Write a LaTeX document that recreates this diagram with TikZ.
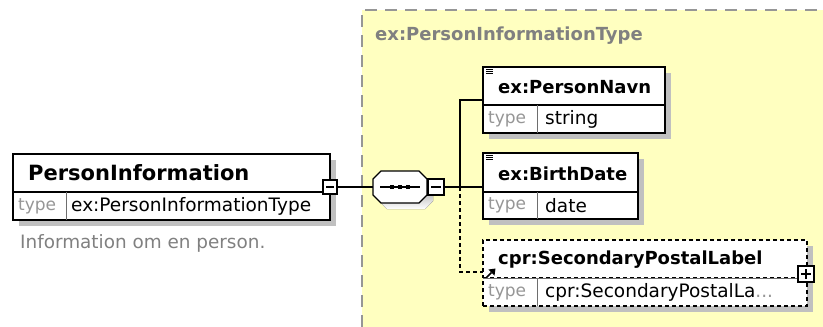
\documentclass[tikz,border=0pt]{standalone}
\usepackage{fontspec}
\setmainfont{DejaVu Sans}
\usetikzlibrary{arrows.meta,shadows}
\definecolor{bgyellow}{RGB}{255,255,192}
\definecolor{shade}{RGB}{192,192,192}
\definecolor{framegray}{RGB}{150,150,150}
\definecolor{typegray}{RGB}{150,150,150}
\definecolor{titlegray}{RGB}{128,128,128}
\definecolor{rulegray}{RGB}{110,110,110}
\begin{document}
\begin{tikzpicture}[x=1pt,y=-1pt,
  boxbase/.style={fill=white, line width=1.3pt, anchor=north west, inner sep=0pt, outer sep=0pt},
  hdr/.style={boxbase, draw=black, general shadow={fill=shade, shadow xshift=6pt, shadow yshift=-6pt}},
  row/.style={boxbase, draw=black, general shadow={fill=shade, shadow xshift=6pt, shadow yshift=-6pt}},
  opthdr/.style={hdr, dash pattern=on 4pt off 3pt},
  hdrtext/.style={anchor=west, inner sep=0pt, font=\fontsize{18}{21}\selectfont\bfseries},
  typetext/.style={anchor=west, inner sep=0pt, font=\fontsize{17}{20}\selectfont, text=typegray},
  valtext/.style={anchor=west, inner sep=0pt, font=\fontsize{18.5}{21}\selectfont},
  pmbox/.style={draw=black, fill=white, line width=1.2pt, minimum size=14pt, inner sep=0pt},
  conn/.style={line width=1.2pt, draw=black},
  optconn/.style={conn, dash pattern=on 4pt off 3pt},
]
\useasboundingbox (0,0) rectangle (823,327);
% complex type area
\fill[bgyellow] (362,10) rectangle (823,327);
\draw[framegray, line width=1.3pt, dash pattern=on 12pt off 8pt] (362,327) -- (362,10) -- (823,10);
\node[anchor=west, inner sep=0pt, text=titlegray, font=\fontsize{18}{21}\selectfont\bfseries] (cttitle) at (375,36) {ex:PersonInformationType};

% PersonInformation
\node[hdr, minimum width=317pt, minimum height=38pt] (pih) at (13,154) {};
\node[row, minimum width=317pt, minimum height=28pt] (pit) at (pih.south west) {};
\draw[rulegray, line width=1pt] ([xshift=53pt]pit.north west) -- ([xshift=53pt]pit.south west);
\node[hdrtext, font=\fontsize{21}{24}\selectfont\bfseries] (pin) at ([xshift=15pt]pih.west) {PersonInformation};
\node[typetext] (pity) at ([xshift=5pt]pit.west) {type};
\node[valtext] (piv) at ([xshift=58pt]pit.west) {ex:PersonInformationType};
\node[anchor=west, inner sep=0pt, text=titlegray, font=\fontsize{18.4}{21}\selectfont] (pidoc) at (20,243) {Information om en person.};
\node[pmbox] (pim) at (330,187) {};
\draw[line width=1.2pt] ([xshift=-4pt]pim.center) -- ([xshift=4pt]pim.center);

% sequence compositor
\fill[shade] (387,177) -- (425,177) -- (433,185) -- (433,201) -- (425,209) -- (387,209) -- (379,201) -- (379,185) -- cycle;
\draw[fill=white, line width=1.3pt] (381,171) -- (419,171) -- (427,179) -- (427,195) -- (419,203) -- (381,203) -- (373,195) -- (373,179) -- cycle;
\node[minimum width=54pt, minimum height=32pt, inner sep=0pt, outer sep=0pt] (seq) at (400,187) {};
\draw[line width=1.2pt] (380,187) -- (420,187);
\foreach \dx in {392,400,408} \fill (\dx-2.2,185) rectangle (\dx+2.2,189.4);
\node[pmbox, minimum size=16pt] (seqm) at (436,187) {};
\draw[line width=1.2pt] ([xshift=-5pt]seqm.center) -- ([xshift=5pt]seqm.center);

% ex:PersonNavn
\node[hdr, minimum width=182pt, minimum height=38pt] (pnh) at (483,67) {};
\node[row, minimum width=182pt, minimum height=28pt] (pnt) at (pnh.south west) {};
\draw[rulegray, line width=1pt] ([xshift=54pt]pnt.north west) -- ([xshift=54pt]pnt.south west);
\node[hdrtext] (pnn) at ([xshift=15pt,yshift=-1pt]pnh.west) {ex:PersonNavn};
\node[typetext] (pnty) at ([xshift=5pt]pnt.west) {type};
\node[valtext] (pnv) at ([xshift=62pt]pnt.west) {string};
\foreach \k in {0,2,4} \draw[line width=0.8pt] ([shift={(3pt,-2.5pt-\k pt)}]pnh.north west) -- ([shift={(10pt,-2.5pt-\k pt)}]pnh.north west);

% ex:BirthDate
\node[hdr, minimum width=155pt, minimum height=39pt] (bdh) at (483,153) {};
\node[row, minimum width=155pt, minimum height=27pt] (bdt) at (bdh.south west) {};
\draw[rulegray, line width=1pt] ([xshift=54pt]bdt.north west) -- ([xshift=54pt]bdt.south west);
\node[hdrtext] (bdn) at ([xshift=15pt,yshift=-1pt]bdh.west) {ex:BirthDate};
\node[typetext] (bdty) at ([xshift=5pt]bdt.west) {type};
\node[valtext] (bdv) at ([xshift=62pt]bdt.west) {date};
\foreach \k in {0,2,4} \draw[line width=0.8pt] ([shift={(3pt,-2.5pt-\k pt)}]bdh.north west) -- ([shift={(10pt,-2.5pt-\k pt)}]bdh.north west);

% cpr:SecondaryPostalLabel
\node[opthdr, minimum width=324pt, minimum height=38pt] (sph) at (483,240) {};
\node[opthdr, minimum width=324pt, minimum height=28pt] (spt) at (sph.south west) {};
\draw[rulegray, line width=1pt] ([xshift=54pt]spt.north west) -- ([xshift=54pt]spt.south west);
\draw[rulegray, line width=1pt] (sph.south west) -- (sph.south east);
\node[hdrtext] (spn) at ([xshift=15pt,yshift=-1pt]sph.west) {cpr:SecondaryPostalLabel};
\node[typetext] (spty) at ([xshift=5pt]spt.west) {type};
\node[valtext] (spv) at ([xshift=62pt]spt.west) {cpr:SecondaryPostalLa\textcolor{typegray}{...}};
\node[pmbox, minimum size=16pt] (spp) at (806,274) {};
\draw[line width=1.2pt] ([xshift=-5pt]spp.center) -- ([xshift=5pt]spp.center);
\draw[line width=1.2pt] ([yshift=-5pt]spp.center) -- ([yshift=5pt]spp.center);

% connectors
\coordinate (j) at (460,187);
\draw[conn] (pim.east) -- (seq.west);
\draw[conn] (seqm.east) -- (j);
\draw[conn] (j) |- ([yshift=5pt]pnh.south west);
\draw[conn] (j) -- (j -| bdh.west);
\draw[optconn] (j) |- ([yshift=6pt]sph.south west);
% reference marker
\draw[line width=1.6pt] (486.5,277.5) -- (491.5,272.5);
\fill (495.5,268.5) -- (488.5,269.5) -- (494.5,275.5) -- cycle;
\end{tikzpicture}
\end{document}
